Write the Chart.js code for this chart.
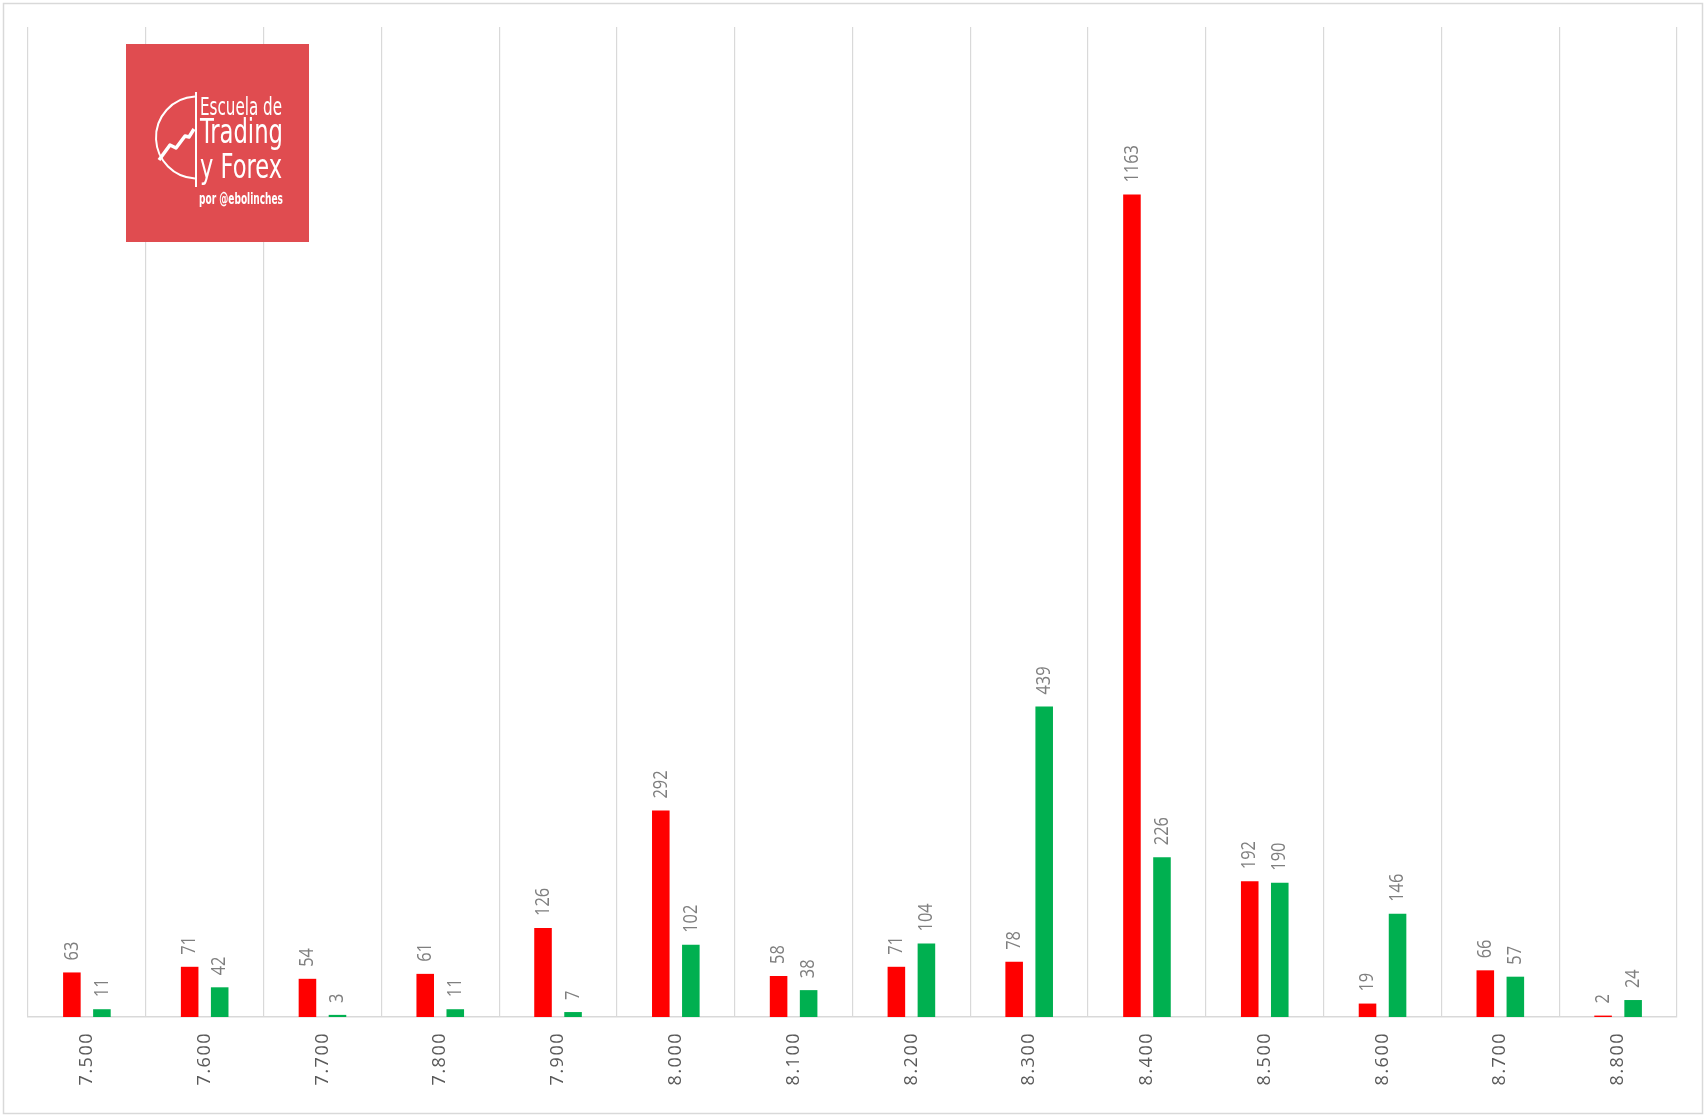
<!DOCTYPE html>
<html>
<head>
<meta charset="utf-8">
<style>
  html, body { margin: 0; padding: 0; background: #ffffff; }
  canvas { display: block; }
</style>
<script src="https://cdn.jsdelivr.net/npm/chart.js@4/dist/chart.umd.min.js"></script>
</head>
<body>
<canvas id="c" width="1706" height="1116"></canvas>
<script>
const categories = ['7.500','7.600','7.700','7.800','7.900','8.000','8.100','8.200','8.300','8.400','8.500','8.600','8.700','8.800'];
const redValues   = [63, 71, 54, 61, 126, 292, 58, 71, 78, 1163, 192, 19, 66, 2];
const greenValues = [11, 42, 3, 11, 7, 102, 38, 104, 439, 226, 190, 146, 57, 24];
const yMax = 1400;

const frameAndLogo = {
  id: 'frameAndLogo',
  beforeDraw(chart) {
    const ctx = chart.ctx;
    ctx.save();
    ctx.fillStyle = '#ffffff';
    ctx.fillRect(0, 0, chart.width, chart.height);
    ctx.restore();
    // wider letter spacing for the axis tick labels (Excel look)
    ctx.letterSpacing = '1.5px';
  },
  beforeDatasetsDraw(chart) {
    chart.ctx.letterSpacing = '0px';
  },
  afterDraw(chart) {
    const ctx = chart.ctx;
    ctx.save();
    ctx.letterSpacing = '0px';
    // outer frame
    ctx.strokeStyle = '#d9d9d9';
    ctx.lineWidth = 1.5;
    ctx.strokeRect(3.5, 3.5, 1699, 1110);
    // logo
    ctx.fillStyle = '#e04c50';
    ctx.fillRect(126, 44, 183, 198);
    ctx.strokeStyle = '#ffffff';
    ctx.fillStyle = '#ffffff';
    ctx.lineWidth = 2;
    ctx.beginPath();
    ctx.moveTo(196, 92); ctx.lineTo(196, 187);
    ctx.stroke();
    ctx.beginPath();
    ctx.arc(197, 137.5, 41, -Math.PI / 2 - 0.05, Math.PI / 2 + 0.05, true);
    ctx.stroke();
    ctx.lineWidth = 3.5;
    ctx.lineJoin = 'round';
    ctx.beginPath();
    ctx.moveTo(159, 160); ctx.lineTo(170, 145); ctx.lineTo(176, 148);
    ctx.lineTo(185, 136); ctx.lineTo(189, 137); ctx.lineTo(194, 129);
    ctx.stroke();
    ctx.textAlign = 'left';
    ctx.textBaseline = 'alphabetic';
    ctx.font = '25px "DejaVu Sans Condensed", "DejaVu Sans", sans-serif';
    ctx.fillText('Escuela de', 200, 115, 82);
    ctx.font = '33px "DejaVu Sans Condensed", "DejaVu Sans", sans-serif';
    ctx.fillText('Trading', 200, 143, 83);
    ctx.fillText('y Forex', 200, 178, 82);
    ctx.font = 'bold 15px "DejaVu Sans Condensed", "DejaVu Sans", sans-serif';
    ctx.fillText('por @ebolinches', 199, 204, 84);
    ctx.restore();
  }
};

const valueLabels = {
  id: 'valueLabels',
  afterDatasetsDraw(chart) {
    const ctx = chart.ctx;
    ctx.save();
    ctx.letterSpacing = '0px';
    ctx.fillStyle = '#7f7f7f';
    ctx.font = '20px "Open Sans", sans-serif';
    ctx.textAlign = 'left';
    ctx.textBaseline = 'middle';
    chart.data.datasets.forEach((ds, di) => {
      const meta = chart.getDatasetMeta(di);
      meta.data.forEach((bar, i) => {
        const v = ds.data[i];
        ctx.save();
        ctx.translate(bar.x, bar.y - 12);
        ctx.rotate(-Math.PI / 2);
        ctx.scale(0.82, 1);
        ctx.fillText(String(v), 0, 0);
        ctx.restore();
      });
    });
    ctx.restore();
  }
};

new Chart(document.getElementById('c'), {
  type: 'bar',
  data: {
    labels: categories,
    datasets: [
      { data: redValues, backgroundColor: '#ff0000', borderWidth: 0 },
      { data: greenValues, backgroundColor: '#00b050', borderWidth: 0 }
    ]
  },
  options: {
    responsive: false,
    devicePixelRatio: 1,
    animation: false,
    categoryPercentage: 0.51,
    barPercentage: 0.585,
    layout: { padding: { left: 28, right: 29, top: 27, bottom: 0 } },
    plugins: { legend: { display: false }, tooltip: { enabled: false } },
    scales: {
      x: {
        grid: { offset: true, color: '#d9d9d9', lineWidth: 1.2, drawTicks: false },
        border: { color: '#d9d9d9', width: 1.5 },
        ticks: {
          color: '#595959',
          font: { family: '"Open Sans", sans-serif', size: 18 },
          minRotation: 90, maxRotation: 90,
          autoSkip: false,
          padding: 15
        },
        afterFit(scale) { scale.height = 99; }
      },
      y: {
        display: false,
        min: 0, max: yMax
      }
    }
  },
  plugins: [frameAndLogo, valueLabels]
});
</script>
</body>
</html>
